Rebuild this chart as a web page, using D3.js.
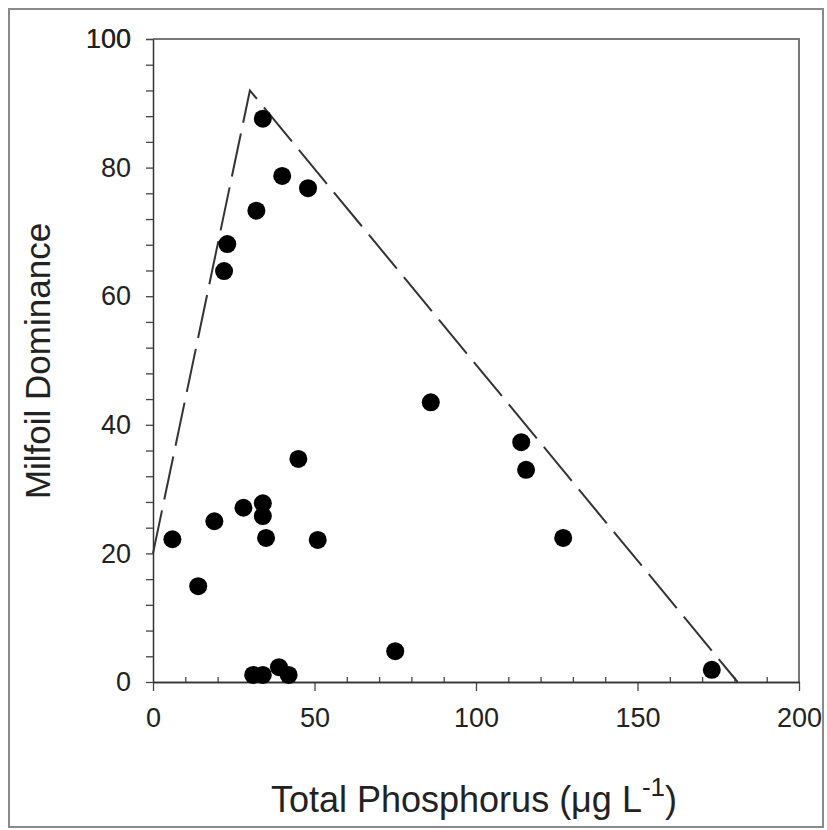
<!DOCTYPE html>
<html>
<head>
<meta charset="utf-8">
<script src="https://cdn.jsdelivr.net/npm/d3@7"></script>
<style>
  body { margin: 0; background: #fff; }
  svg { display: block; }
  text { font-family: "Liberation Sans", Arial, sans-serif; fill: #222; }
</style>
</head>
<body>
<div id="chart"></div>
<script>
(function() {

  // lake values
  var phosphorus = [34, 40, 48, 32, 23, 22, 86, 114, 115.5, 45, 28, 34, 34, 19, 6, 35, 51, 127, 14, 75, 31, 34, 39, 42, 173];
  var dominance  = [87.6, 78.7, 76.8, 73.3, 68.1, 63.9, 43.5, 37.3, 33, 34.7, 27.1, 27.8, 25.8, 25, 22.2, 22.4, 22.1, 22.4, 14.9, 4.8, 1.1, 1.1, 2.3, 1.1, 1.9];

  // upper boundary (dashed)
  var boundaryTP  = [0, 30, 181];
  var boundaryDom = [20, 92, 0];

  var xMajor = [0, 50, 100, 150, 200];
  var yMajor = [0, 20, 40, 60, 80, 100];

  var width = 827, height = 830;
  var left = 153, right = 799, top = 39, bottom = 682;

  var x = d3.scaleLinear().domain([0, 200]).range([left, right]);
  var y = d3.scaleLinear().domain([0, 100]).range([bottom, top]);

  var svg = d3.select('#chart')
    .append('svg')
    .attr('width', width)
    .attr('height', height);

  // outer frame
  svg.append('rect')
    .attr('x', 9).attr('y', 9)
    .attr('width', 814).attr('height', 818)
    .attr('fill', 'none')
    .attr('stroke', '#8a8a8a')
    .attr('stroke-width', 2);

  // top and right edges of the plot box
  svg.append('path')
    .attr('d', 'M' + left + ',' + top + 'H' + right + 'V' + bottom)
    .attr('fill', 'none')
    .attr('stroke', '#777')
    .attr('stroke-width', 2);

  // x axis: major ticks out, minor ticks in
  svg.append('g')
    .attr('transform', 'translate(0,' + bottom + ')')
    .call(d3.axisBottom(x).tickValues(xMajor).tickSize(9).tickPadding(17).tickSizeOuter(0));

  svg.append('g')
    .attr('transform', 'translate(0,' + bottom + ')')
    .call(d3.axisBottom(x).tickValues(d3.range(10, 200, 10).filter(function(v) { return v % 50; }))
      .tickSize(-5).tickFormat('').tickSizeOuter(0));

  // y axis: ticks every 4, labels every 20
  svg.append('g')
    .attr('transform', 'translate(' + left + ',0)')
    .call(d3.axisLeft(y).tickValues(d3.range(0, 101, 4).concat([100]))
      .tickSize(7).tickPadding(15).tickSizeOuter(0)
      .tickFormat(function(d) { return yMajor.indexOf(d) >= 0 ? d : ''; }));

  svg.selectAll('.domain').attr('stroke', '#333').attr('stroke-width', 1.5);
  svg.selectAll('.tick line').attr('stroke', '#444').attr('stroke-width', 1.3);
  svg.selectAll('.tick text')
    .style('font-size', '27px')
    .style('font-family', '"Liberation Sans", Arial, sans-serif')
    .attr('fill', '#222');

  // dashed boundary
  var line = d3.line()
    .x(function(d) { return x(d[0]); })
    .y(function(d) { return y(d[1]); });

  svg.append('path')
    .datum(d3.zip(boundaryTP, boundaryDom))
    .attr('d', line)
    .attr('fill', 'none')
    .attr('stroke', '#333')
    .attr('stroke-width', 2)
    .attr('stroke-dasharray', '44,11');

  // points
  svg.selectAll('circle.pt')
    .data(d3.zip(phosphorus, dominance))
    .enter()
    .append('circle')
    .attr('class', 'pt')
    .attr('cx', function(d) { return x(d[0]); })
    .attr('cy', function(d) { return y(d[1]); })
    .attr('r', 9)
    .attr('fill', '#000');

  // axis titles
  var xt = svg.append('text')
    .attr('x', 474)
    .attr('y', 812)
    .attr('text-anchor', 'middle')
    .style('font-size', '36px');
  xt.append('tspan').text('Total Phosphorus (\u03BCg L');
  xt.append('tspan').attr('dy', -16).style('font-size', '26px').text('-1');
  xt.append('tspan').attr('dy', 16).text(')');

  svg.append('text')
    .attr('transform', 'translate(50,361) rotate(-90)')
    .attr('text-anchor', 'middle')
    .style('font-size', '35px')
    .text('Milfoil Dominance');

})();
</script>
</body>
</html>
